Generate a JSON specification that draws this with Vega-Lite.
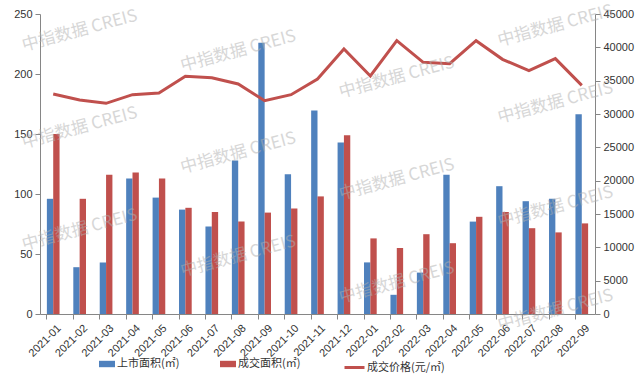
{
  "$schema": "https://vega.github.io/schema/vega-lite/v6.json",
  "width": 555,
  "height": 300,
  "autosize": {"type": "none"},
  "padding": {"left": 40, "top": 14, "right": 46, "bottom": 64},
  "background": "white",
  "config": {
    "view": {"stroke": null},
    "font": "Liberation Sans",
    "axis": {
      "domainColor": "#868686",
      "tickColor": "#868686",
      "tickSize": 5,
      "labelColor": "#333333",
      "labelFontSize": 11,
      "labelFont": "Liberation Sans",
      "grid": false,
      "title": null
    },
    "legend": {
      "padding": 0,
      "labelFont": "Noto Sans CJK SC",
      "labelFontSize": 11,
      "labelColor": "#333333",
      "title": null
    }
  },
  "datasets": {
    "bars": [
      {"month": "2021-01", "series": "上市面积(㎡)", "value": 96},
      {"month": "2021-01", "series": "成交面积(㎡)", "value": 150},
      {"month": "2021-02", "series": "上市面积(㎡)", "value": 39},
      {"month": "2021-02", "series": "成交面积(㎡)", "value": 96},
      {"month": "2021-03", "series": "上市面积(㎡)", "value": 43},
      {"month": "2021-03", "series": "成交面积(㎡)", "value": 116},
      {"month": "2021-04", "series": "上市面积(㎡)", "value": 113},
      {"month": "2021-04", "series": "成交面积(㎡)", "value": 118},
      {"month": "2021-05", "series": "上市面积(㎡)", "value": 97},
      {"month": "2021-05", "series": "成交面积(㎡)", "value": 113},
      {"month": "2021-06", "series": "上市面积(㎡)", "value": 87},
      {"month": "2021-06", "series": "成交面积(㎡)", "value": 88.5},
      {"month": "2021-07", "series": "上市面积(㎡)", "value": 73},
      {"month": "2021-07", "series": "成交面积(㎡)", "value": 85},
      {"month": "2021-08", "series": "上市面积(㎡)", "value": 128},
      {"month": "2021-08", "series": "成交面积(㎡)", "value": 77},
      {"month": "2021-09", "series": "上市面积(㎡)", "value": 226},
      {"month": "2021-09", "series": "成交面积(㎡)", "value": 84.5},
      {"month": "2021-10", "series": "上市面积(㎡)", "value": 116.5},
      {"month": "2021-10", "series": "成交面积(㎡)", "value": 88},
      {"month": "2021-11", "series": "上市面积(㎡)", "value": 169.5},
      {"month": "2021-11", "series": "成交面积(㎡)", "value": 98},
      {"month": "2021-12", "series": "上市面积(㎡)", "value": 143},
      {"month": "2021-12", "series": "成交面积(㎡)", "value": 149},
      {"month": "2022-01", "series": "上市面积(㎡)", "value": 43},
      {"month": "2022-01", "series": "成交面积(㎡)", "value": 63},
      {"month": "2022-02", "series": "上市面积(㎡)", "value": 16},
      {"month": "2022-02", "series": "成交面积(㎡)", "value": 55},
      {"month": "2022-03", "series": "上市面积(㎡)", "value": 34.5},
      {"month": "2022-03", "series": "成交面积(㎡)", "value": 66.5},
      {"month": "2022-04", "series": "上市面积(㎡)", "value": 116},
      {"month": "2022-04", "series": "成交面积(㎡)", "value": 59},
      {"month": "2022-05", "series": "上市面积(㎡)", "value": 77},
      {"month": "2022-05", "series": "成交面积(㎡)", "value": 81},
      {"month": "2022-06", "series": "上市面积(㎡)", "value": 106.5},
      {"month": "2022-06", "series": "成交面积(㎡)", "value": 85},
      {"month": "2022-07", "series": "上市面积(㎡)", "value": 94},
      {"month": "2022-07", "series": "成交面积(㎡)", "value": 71.5},
      {"month": "2022-08", "series": "上市面积(㎡)", "value": 96},
      {"month": "2022-08", "series": "成交面积(㎡)", "value": 68},
      {"month": "2022-09", "series": "上市面积(㎡)", "value": 166.5},
      {"month": "2022-09", "series": "成交面积(㎡)", "value": 75.5}
    ],
    "price": [
      {"month": "2021-01", "price": 33000},
      {"month": "2021-02", "price": 32100},
      {"month": "2021-03", "price": 31600},
      {"month": "2021-04", "price": 32900},
      {"month": "2021-05", "price": 33150},
      {"month": "2021-06", "price": 35650},
      {"month": "2021-07", "price": 35450},
      {"month": "2021-08", "price": 34500},
      {"month": "2021-09", "price": 32000},
      {"month": "2021-10", "price": 32900},
      {"month": "2021-11", "price": 35250},
      {"month": "2021-12", "price": 39750},
      {"month": "2022-01", "price": 35700},
      {"month": "2022-02", "price": 41000},
      {"month": "2022-03", "price": 37750},
      {"month": "2022-04", "price": 37550},
      {"month": "2022-05", "price": 41000},
      {"month": "2022-06", "price": 38200},
      {"month": "2022-07", "price": 36500},
      {"month": "2022-08", "price": 38300},
      {"month": "2022-09", "price": 34300}
    ],
    "wm": [
      {"month": "2021-02", "v": 236},
      {"month": "2021-02", "v": 155},
      {"month": "2021-02", "v": 70},
      {"month": "2021-08", "v": 219},
      {"month": "2021-08", "v": 134},
      {"month": "2021-08", "v": 48},
      {"month": "2022-02", "v": 197},
      {"month": "2022-02", "v": 112},
      {"month": "2022-02", "v": 26},
      {"month": "2022-08", "v": 240},
      {"month": "2022-08", "v": 176},
      {"month": "2022-08", "v": 89},
      {"month": "2022-08", "v": 3}
    ]
  },
  "layer": [
    {
      "data": {"name": "bars"},
      "mark": {"type": "bar"},
      "encoding": {
        "x": {
          "field": "month",
          "type": "ordinal",
          "sort": null,
          "scale": {"paddingInner": 0.52, "paddingOuter": 0.26},
          "axis": {
            "labelAngle": -45,
            "labelAlign": "right",
            "labelBaseline": "top",
            "bandPosition": 0,
            "labelOffset": 2,
            "labelPadding": 3,
            "tickSize": 5
          }
        },
        "xOffset": {
          "field": "series",
          "sort": ["上市面积(㎡)", "成交面积(㎡)"],
          "scale": {"paddingInner": 0, "paddingOuter": 0}
        },
        "y": {
          "field": "value",
          "type": "quantitative",
          "scale": {"domain": [0, 250]},
          "axis": {"orient": "left", "values": [0, 50, 100, 150, 200, 250], "labelPadding": 3}
        },
        "color": {
          "field": "series",
          "type": "nominal",
          "scale": {"domain": ["上市面积(㎡)", "成交面积(㎡)"], "range": ["#4F81BD", "#C0504D"]},
          "legend": {
            "orient": "none",
            "legendX": 59,
            "legendY": 342,
            "direction": "horizontal",
            "symbolType": "M-1,-0.4H1V0.4H-1Z",
            "symbolSize": 256,
            "symbolStrokeWidth": 0,
            "columnPadding": 40,
            "labelOffset": 2
          }
        }
      }
    },
    {
      "data": {"name": "price"},
      "mark": {"type": "line", "strokeWidth": 3, "color": "#C0504D"},
      "encoding": {
        "x": {"field": "month", "type": "ordinal", "sort": null},
        "y": {
          "field": "price",
          "type": "quantitative",
          "scale": {"domain": [0, 45000]},
          "axis": {
            "orient": "right",
            "values": [0, 5000, 10000, 15000, 20000, 25000, 30000, 35000, 40000, 45000],
            "format": "d",
            "labelPadding": 3
          }
        },
        "stroke": {
          "datum": "成交价格(元/㎡)",
          "type": "nominal",
          "scale": {"range": ["#C0504D"]},
          "legend": {
            "orient": "none",
            "legendX": 303,
            "legendY": 342,
            "symbolType": "stroke",
            "symbolSize": 400,
            "symbolStrokeWidth": 3,
            "labelOffset": 1
          }
        }
      }
    },
    {
      "data": {"name": "wm"},
      "mark": {
        "type": "text",
        "text": "中指数据 CREIS",
        "angle": -15,
        "font": "Noto Sans CJK SC",
        "fontSize": 17,
        "fontWeight": "normal",
        "color": "#b0b0b0",
        "opacity": 0.5
      },
      "encoding": {
        "x": {"field": "month", "type": "ordinal", "sort": null},
        "y": {"field": "v", "type": "quantitative", "scale": {"domain": [0, 250]}, "axis": null}
      }
    }
  ],
  "resolve": {"scale": {"y": "independent"}}
}
